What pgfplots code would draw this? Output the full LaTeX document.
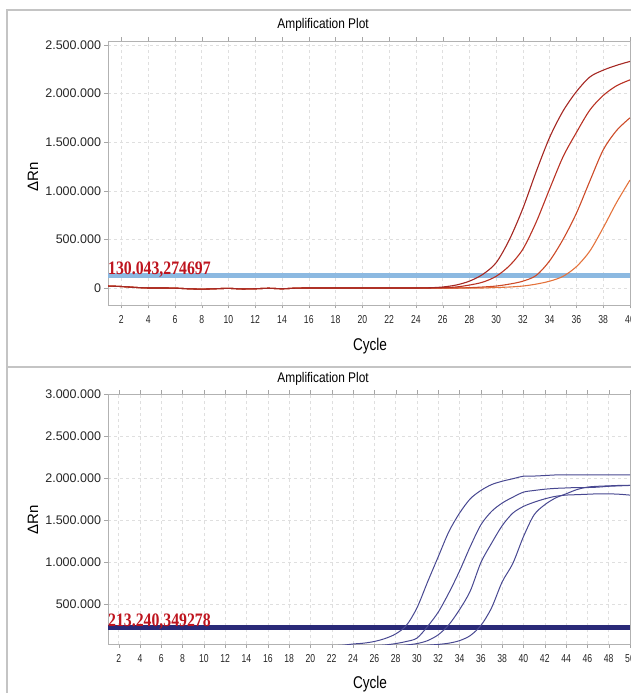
\documentclass[border=0pt]{standalone}
\usepackage{pgfplots}
\pgfplotsset{compat=1.18}
\usepackage{graphicx}
\usepackage{fontspec}
\setmainfont{Liberation Sans}
\newfontfamily\thrfont{Liberation Serif}
\definecolor{framegray}{RGB}{196,196,196}
\definecolor{thrred}{RGB}{190,20,30}
\definecolor{thrblue}{RGB}{140,185,225}
\definecolor{thrnavy}{RGB}{42,42,120}
\definecolor{cA}{RGB}{165,40,35}
\definecolor{cB}{RGB}{185,50,35}
\definecolor{cC}{RGB}{205,75,40}
\definecolor{cD}{RGB}{228,115,60}
\definecolor{navy}{RGB}{72,72,145}
\pgfplotsset{
  ampl/.style={
    scale only axis, anchor=south west, width=522pt,
    axis line style={gray!60}, tick style={gray!70}, tick align=outside,
    major tick length=3.5pt,
    grid=major, major grid style={dashed, gray!25},
    xmin=1,
    /pgf/number format/assume math mode=true,
    yticklabel style={font=\fontsize{12.5}{13}\selectfont, text=black!85,
      /pgf/number format/fixed, /pgf/number format/precision=0, /pgf/number format/1000 sep={.}},
    xticklabel style={font=\fontsize{11.5}{12}\selectfont, text=black!85, anchor=base, yshift=-15pt},
    xticklabel={\scalebox{0.75}[1]{\pgfmathprintnumber{\tick}}},
    scaled y ticks=false,
    title={\scalebox{0.85}[1]{Amplification Plot}},
    title style={anchor=center, font=\fontsize{14}{15}\selectfont},
    xlabel={\scalebox{0.8}[1]{Cycle}},
    xlabel style={anchor=center, font=\fontsize{17}{18}\selectfont},
    ylabel={ΔRn},
    ylabel style={anchor=center, font=\fontsize{15}{16}\selectfont},
    every axis plot/.append style={smooth, no marks},
  }
}
\begin{document}
\begin{tikzpicture}
\path[use as bounding box] (0pt,0pt) rectangle (631pt,693pt);
\draw[framegray, line width=2pt] (7pt,0pt) -- (7pt,683pt) -- (631pt,683pt);
\draw[framegray, line width=2pt] (7pt,326pt) -- (631pt,326pt);

% ---------------- top panel ----------------
\begin{axis}[ampl, at={(108pt,388pt)}, height=264pt,
  xmax=40, ymin=-175000, ymax=2540000,
  xtick={2,4,...,40}, ytick={0,500000,1000000,1500000,2000000,2500000},
  title style={at={(axis description cs:0.412,1.0375)}},
  xlabel style={at={(axis description cs:0.502,-0.157)}},
  ylabel style={at={(axis description cs:-0.1437,0.485)}},
]
\addplot[thrblue, line width=5pt, sharp plot] coordinates {(1,126000) (40,126000)};
\addplot[cD, line width=1.1pt] coordinates {
(1,20000) (2,15000) (3,6000) (4,0) (5,0) (6,-2000) (7,-8000) (8,-12000) (9,-8000) (10,-4000)
(11,-10000) (12,-8000) (13,-3000) (14,-8000) (15,-2000) (16,0) (17,0) (18,0) (19,0) (20,0)
(21,0) (22,0) (23,0) (24,0) (25,0) (26,0) (27,0) (28,0) (29,0) (30,5000) (31,10000) (32,20000)
(33,40000) (34,70000) (35,120000) (36,220000) (37,380000) (38,620000) (39,880000) (40,1110000)};
\addplot[cC, line width=1.1pt] coordinates {
(1,20000) (2,15000) (3,6000) (4,0) (5,0) (6,-2000) (7,-8000) (8,-12000) (9,-8000) (10,-4000)
(11,-10000) (12,-8000) (13,-3000) (14,-8000) (15,-2000) (16,0) (17,0) (18,0) (19,0) (20,0)
(21,0) (22,0) (23,0) (24,0) (25,0) (26,0) (27,0) (28,3000) (29,10000) (30,20000) (31,40000)
(32,70000) (33,130000) (34,280000) (35,500000) (36,770000) (37,1100000) (38,1420000) (39,1620000) (40,1750000)};
\addplot[cB, line width=1.1pt] coordinates {
(1,20000) (2,15000) (3,6000) (4,0) (5,0) (6,-2000) (7,-8000) (8,-12000) (9,-8000) (10,-4000)
(11,-10000) (12,-8000) (13,-3000) (14,-8000) (15,-2000) (16,0) (17,0) (18,0) (19,0) (20,0)
(21,0) (22,0) (23,0) (24,0) (25,0) (26,3000) (27,10000) (28,30000) (29,60000) (30,120000)
(31,230000) (32,400000) (33,680000) (34,1020000) (35,1350000) (36,1600000) (37,1830000) (38,1980000) (39,2080000) (40,2140000)};
\addplot[cA, line width=1.1pt] coordinates {
(1,20000) (2,15000) (3,6000) (4,0) (5,0) (6,-2000) (7,-8000) (8,-12000) (9,-8000) (10,-4000)
(11,-10000) (12,-8000) (13,-3000) (14,-8000) (15,-2000) (16,0) (17,0) (18,0) (19,0) (20,0)
(21,0) (22,0) (23,0) (24,0) (25,2000) (26,10000) (27,30000) (28,70000) (29,140000) (30,260000)
(31,500000) (32,820000) (33,1200000) (34,1550000) (35,1820000) (36,2020000) (37,2170000) (38,2240000) (39,2290000) (40,2330000)};
\node[anchor=base west, inner sep=0pt, yshift=1pt, text=thrred, font=\thrfont\bfseries\fontsize{19}{19}\selectfont]
  at (axis cs:1,126000) {\scalebox{0.83}[1]{130.043,274697}};
\end{axis}

% ---------------- bottom panel ----------------
\begin{axis}[ampl, at={(108pt,49pt)}, height=250pt,
  xmax=50, ymin=20000, ymax=3000000,
  xtick={2,4,...,50}, ytick={500000,1000000,1500000,2000000,2500000,3000000},
  title style={at={(axis description cs:0.412,1.036)}},
  xlabel style={at={(axis description cs:0.502,-0.16)}},
  ylabel style={at={(axis description cs:-0.1437,0.496)}},
]
\addplot[thrnavy, line width=5pt, sharp plot] coordinates {(1,213240) (50,213240)};
\addplot[navy, line width=1pt] coordinates {
(1,0) (5,0) (10,0) (15,0) (20,0) (22,0) (23,5000) (24,20000) (25,30000) (26,50000) (27,85000) (28,140000)
(29,240000) (30,450000) (31,760000) (32,1060000) (33,1360000) (34,1580000) (35,1750000)
(36,1850000) (37,1920000) (38,1960000) (39,1990000) (40,2020000) (41,2022000) (42,2028000)
(43,2035000) (44,2035000) (45,2035000) (46,2035000) (47,2035000) (48,2035000) (49,2035000) (50,2035000)};
\addplot[navy, line width=1pt] coordinates {
(1,0) (5,0) (10,0) (15,0) (20,0) (25,0) (26,0) (27,8000) (28,25000) (29,50000) (30,90000)
(31,230000) (32,400000) (33,630000) (34,890000) (35,1180000) (36,1440000) (37,1600000)
(38,1700000) (39,1770000) (40,1830000) (41,1850000) (42,1865000) (43,1875000) (44,1880000)
(45,1885000) (46,1885000) (47,1890000) (48,1900000) (49,1905000) (50,1910000)};
\addplot[navy, line width=1pt] coordinates {
(1,0) (5,0) (10,0) (15,0) (20,0) (25,0) (28,0) (29,8000) (30,25000) (31,60000) (32,130000)
(33,250000) (34,430000) (35,650000) (36,990000) (37,1220000) (38,1430000) (39,1580000)
(40,1660000) (41,1710000) (42,1750000) (43,1780000) (44,1795000) (45,1800000) (46,1805000)
(47,1810000) (48,1810000) (49,1805000) (50,1795000)};
\addplot[navy, line width=1pt] coordinates {
(1,0) (5,0) (10,0) (15,0) (20,0) (25,0) (30,0) (31,6000) (32,15000) (33,30000) (34,60000)
(35,120000) (36,240000) (37,450000) (38,760000) (39,980000) (40,1300000) (41,1560000)
(42,1680000) (43,1760000) (44,1810000) (45,1860000) (46,1890000) (47,1900000) (48,1905000)
(49,1910000) (50,1910000)};
\node[anchor=base west, inner sep=0pt, yshift=1pt, text=thrred, font=\thrfont\bfseries\fontsize{19}{19}\selectfont]
  at (axis cs:1,213240) {\scalebox{0.83}[1]{213.240,349278}};
\end{axis}
\end{tikzpicture}
\end{document}
